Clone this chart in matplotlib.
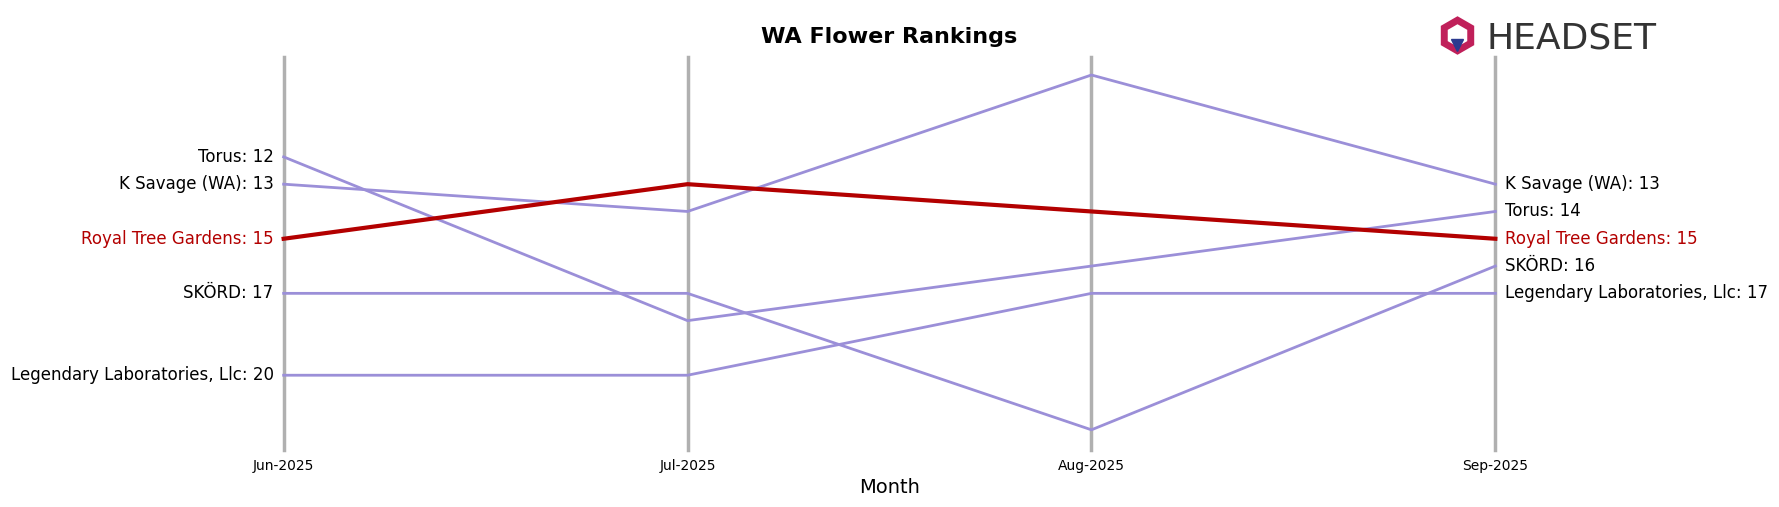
import matplotlib
matplotlib.use("Agg")
import matplotlib.pyplot as plt
from matplotlib.lines import Line2D

months = ["Jun-2025", "Jul-2025", "Aug-2025", "Sep-2025"]
brands = ["Torus", "K Savage (WA)", "Royal Tree Gardens", "SKÖRD", "Legendary Laboratories, Llc"]
ranks = {
    "Torus": [12, 18, 16, 14],
    "K Savage (WA)": [13, 14, 9, 13],
    "Royal Tree Gardens": [15, 13, 14, 15],
    "SKÖRD": [17, 17, 22, 16],
    "Legendary Laboratories, Llc": [20, 20, 17, 17],
}
HIGHLIGHT = "Royal Tree Gardens"
RED, PURPLE, GRID = "#b30000", "#9b8fd8", "#b0b0b0"

W, H = 1568, 447  # reference layout frame
fig = plt.figure(figsize=(17.79, 5.07), dpi=100)
ax = fig.add_axes([250/W, 1-397/H, (1318-250)/W, 347/H])
x = list(range(len(months)))
for i in x:
    ax.axvline(i, color=GRID, lw=2.5, zorder=0, clip_on=False)
for b in brands:
    hl = b == HIGHLIGHT
    ax.plot(x, ranks[b], color=RED if hl else PURPLE, lw=3 if hl else 2, zorder=3 if hl else 2,
            clip_on=False)
    c = RED if hl else "black"
    ax.text(-0.025, ranks[b][0], f"{b}: {ranks[b][0]}", ha="right", va="center", fontsize=12, color=c)
    ax.text(3.025, ranks[b][-1], f"{b}: {ranks[b][-1]}", ha="left", va="center", fontsize=12, color=c)
ax.set_xlim(0, 3)
ax.set_ylim(22.75, 8.33)
ax.set_yticks([])
ax.set_xticks(x, months, fontsize=10)
ax.tick_params(axis="x", length=0, pad=6)
for s in ax.spines.values():
    s.set_visible(False)
ax.set_xlabel("Month", fontsize=14)
fig.text(784/W, 1-33/H, "WA Flower Rankings", ha="center", va="center", fontsize=16, fontweight="bold")
# logo
fig.lines.append(Line2D([1284/W], [1-31/H], transform=fig.transFigure, marker="h", markersize=22,
                        markerfacecolor="none", markeredgecolor="#c0205a", markeredgewidth=5,
                        linestyle="none"))
fig.lines.append(Line2D([1284/W], [1-40/H], transform=fig.transFigure, marker="v", markersize=8,
                        color="#2b3a8f", linestyle="none"))
fig.text(1310/W, 1-34/H, "HEADSET", ha="left", va="center", fontsize=26, color="#333333")
fig.savefig("out.png")
